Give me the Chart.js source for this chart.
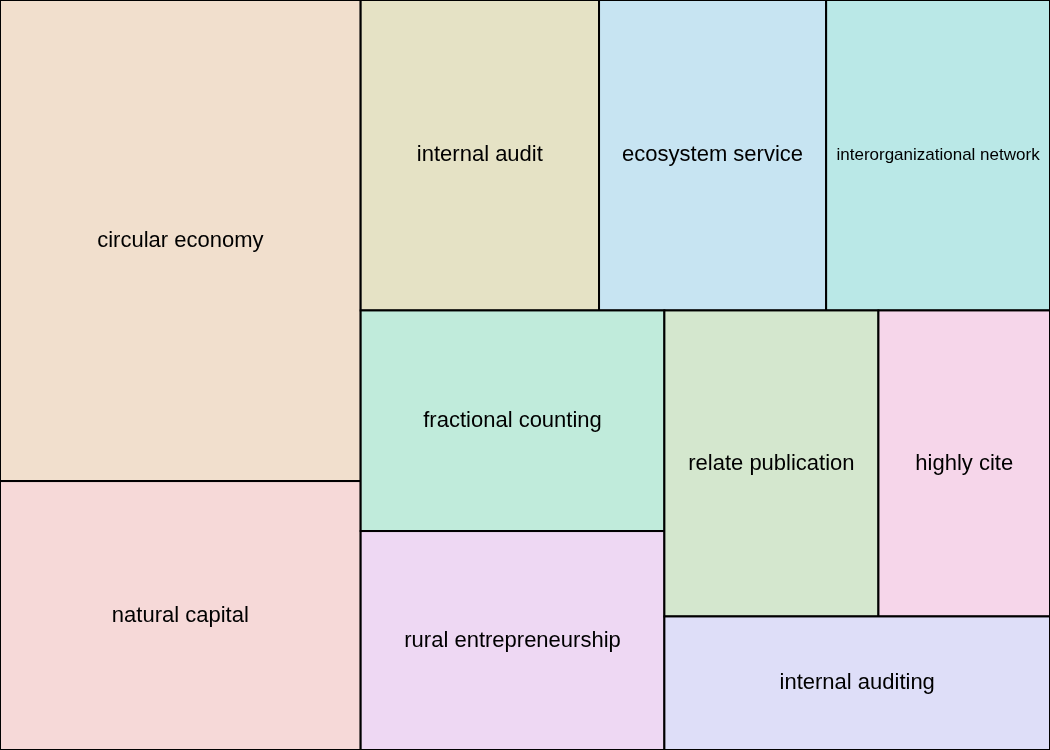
<!DOCTYPE html>
<html>
<head>
<meta charset="utf-8">
<script src="https://cdn.jsdelivr.net/npm/chart.js@4"></script>
<style>
  html, body { margin: 0; padding: 0; background: #fff; }
  canvas { display: block; }
</style>
</head>
<body>
<canvas id="chart" width="1050" height="750"></canvas>
<script>
// Keyword treemap data
const labels = ['circular economy', 'natural capital', 'internal audit', 'ecosystem service',
    'interorganizational network', 'fractional counting', 'rural entrepreneurship',
    'relate publication', 'highly cite', 'internal auditing'];
const values = [34.7, 19.4, 14.8, 14.1, 13.9, 13.4, 13.3, 13.1, 10.5, 10.3];
const colors = ['#F1DFCD', '#F6D9D8', '#E5E2C5', '#C7E4F2', '#BAE8E7',
    '#C0EBDB', '#EED8F3', '#D4E7CE', '#F6D6EA', '#DEDEF8'];

const W = 1050, H = 750;

// Squarified treemap layout in data units
function squarify(vals, x, y, w, h) {
    const total = vals.reduce((a, b) => a + b, 0);
    const areas = vals.map(v => v / total * w * h);
    const rects = [];
    let i = 0;
    while (i < areas.length) {
        const side = Math.min(w, h);
        let row = [areas[i]];
        let j = i + 1;
        const worst = r => {
            const s = r.reduce((a, b) => a + b, 0);
            const t = s / side;
            return Math.max(...r.map(a => Math.max(t / (a / t), (a / t) / t)));
        };
        while (j < areas.length && worst(row.concat(areas[j])) <= worst(row)) {
            row.push(areas[j]);
            j++;
        }
        const sum = row.reduce((a, b) => a + b, 0);
        const thick = sum / side;
        let off = 0;
        row.forEach(a => {
            const len = a / thick;
            if (w >= h) rects.push({ x: x, y: y + off, w: thick, h: len });
            else rects.push({ x: x + off, y: y, w: len, h: thick });
            off += len;
        });
        if (w >= h) { x += thick; w -= thick; } else { y += thick; h -= thick; }
        i = j;
    }
    return rects;
}

const treemapPlugin = {
    id: 'treemap',
    afterDraw(chart) {
        const ctx = chart.ctx;
        const xs = chart.scales.x, ys = chart.scales.y;
        const rects = squarify(values, 0, 0, W, H);
        ctx.save();
        rects.forEach((r, k) => {
            const x0 = xs.getPixelForValue(r.x), x1 = xs.getPixelForValue(r.x + r.w);
            const y0 = ys.getPixelForValue(r.y), y1 = ys.getPixelForValue(r.y + r.h);
            ctx.fillStyle = colors[k];
            ctx.fillRect(x0, y0, x1 - x0, y1 - y0);
            ctx.lineWidth = 2;
            ctx.strokeStyle = '#000';
            ctx.strokeRect(x0, y0, x1 - x0, y1 - y0);
            let size = 22;
            ctx.font = size + 'px "Liberation Sans", Arial, sans-serif';
            while (ctx.measureText(labels[k]).width > (x1 - x0) - 10 && size > 8) {
                size -= 1;
                ctx.font = size + 'px "Liberation Sans", Arial, sans-serif';
            }
            ctx.fillStyle = '#000';
            ctx.textAlign = 'center';
            ctx.textBaseline = 'middle';
            ctx.fillText(labels[k], (x0 + x1) / 2, (y0 + y1) / 2);
        });
        ctx.restore();
    }
};

new Chart(document.getElementById('chart'), {
    type: 'scatter',
    data: { datasets: [{ data: [] }] },
    options: {
        responsive: false,
        animation: false,
        devicePixelRatio: 1,
        layout: { padding: 0 },
        plugins: { legend: { display: false }, tooltip: { enabled: false } },
        scales: {
            x: { type: 'linear', min: 0, max: W, display: false },
            y: { type: 'linear', min: 0, max: H, reverse: true, display: false }
        }
    },
    plugins: [treemapPlugin]
});
</script>
</body>
</html>
